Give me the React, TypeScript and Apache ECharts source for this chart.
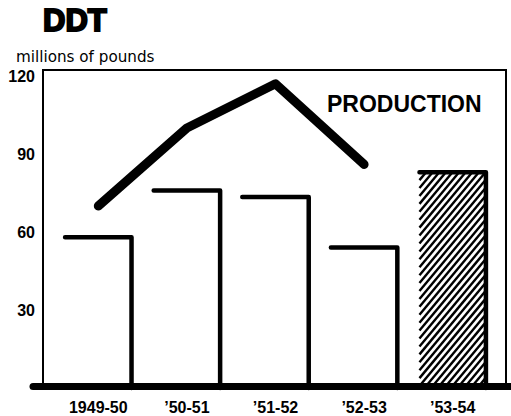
import React, { useEffect, useRef } from "react";
import * as echarts from "echarts";

const categories = ["1949-50", "\u201950-51", "\u201951-52", "\u201952-53", "\u201953-54"];
const barValues = [58, 76, 73.5, 54, 83];
const projected = [false, false, false, false, true];
const productionValues = [70, 100, 117, 86];
const yTicks = [30, 60, 90, 120];

export default function App() {
  const ref = useRef<HTMLDivElement>(null);
  useEffect(() => {
    if (!ref.current) return;
    const chart = echarts.init(ref.current, null, { renderer: "svg" });
    const barData = barValues.map((v, i) => [i, v, projected[i] ? 1 : 0]);
    const option: any = {
      animation: false,
      backgroundColor: "#fff",
      title: [
        {
          text: "DDT",
          left: 43,
          top: 5,
          padding: 0,
          textStyle: {
            fontFamily: "Liberation Sans",
            fontWeight: "bold",
            fontSize: 31,
            color: "#000",
            textBorderColor: "#000",
            textBorderWidth: 2,
          },
        },
        {
          text: "millions of pounds",
          left: 16,
          top: 49,
          padding: 0,
          textStyle: { fontFamily: "DejaVu Sans", fontWeight: "normal", fontSize: 15.2, color: "#000" },
        },
      ],
      graphic: [
        {
          type: "text",
          left: 327,
          top: 92,
          style: { text: "PRODUCTION", fontFamily: "Liberation Sans", fontWeight: "bold", fontSize: 23, fill: "#000" },
          z: 10,
        },
      ],
      grid: [
        { left: 54, top: 76, width: 443, height: 312 },
        { left: 43, top: 70, width: 463, height: 318, show: true, borderColor: "#000", borderWidth: 2, backgroundColor: "transparent" },
        { left: 33, right: 0, top: 0, height: 386 },
      ],
      xAxis: [
        {
          type: "category",
          gridIndex: 0,
          data: categories,
          axisLine: { show: false },
          axisTick: { show: false },
          axisLabel: {
            interval: 0,
            margin: 11,
            color: "#000",
            fontFamily: "Liberation Sans",
            fontWeight: "bold",
            fontSize: 16,
          },
        },
        { type: "value", gridIndex: 1, show: false },
        {
          type: "value",
          gridIndex: 2,
          axisLine: { show: true, lineStyle: { color: "#000", width: 7 } },
          axisTick: { show: false },
          axisLabel: { show: false },
          splitLine: { show: false },
        },
      ],
      yAxis: [
        {
          type: "value",
          gridIndex: 0,
          min: 0,
          max: 120,
          interval: 30,
          axisLine: { show: false },
          axisTick: { show: false },
          splitLine: { show: false },
          axisLabel: {
            margin: 19,
            color: "#000",
            fontFamily: "Liberation Sans",
            fontWeight: "bold",
            fontSize: 16,
            formatter: (v: number) => (yTicks.includes(v) ? String(v) : ""),
          },
        },
        { type: "value", gridIndex: 1, show: false },
        { type: "value", gridIndex: 2, show: false },
      ],
      series: [
        {
          type: "custom",
          xAxisIndex: 0,
          yAxisIndex: 0,
          data: barData,
          renderItem: (params: any, api: any) => {
            const top = api.coord([api.value(0), api.value(1)]);
            const base = api.coord([api.value(0), 0]);
            const bw = api.size([1, 0])[0] * 0.75;
            const x0 = top[0] - bw / 2;
            const x1 = top[0] + bw / 2;
            const y0 = top[1];
            const y1 = base[1];
            const children: any[] = [];
            if (api.value(2) === 1) {
              const k = 1.2;
              const h = 6.6;
              for (let c = k * x0 + y0; c <= k * x1 + y1; c += k * h) {
                const xa = Math.max(x0, (c - y1) / k);
                const xb = Math.min(x1, (c - y0) / k);
                if (xb > xa) {
                  children.push({
                    type: "line",
                    shape: { x1: xa, y1: c - k * xa, x2: xb, y2: c - k * xb },
                    style: { stroke: "#000", lineWidth: 2.4 },
                  });
                }
              }
            }
            children.push({
              type: "polyline",
              shape: { points: [[x0, y0], [x1, y0], [x1, y1]] },
              style: { stroke: "#000", lineWidth: 4.5, fill: null, lineCap: "round", lineJoin: "round" },
            });
            return { type: "group", children };
          },
          z: 2,
        },
        {
          type: "line",
          xAxisIndex: 0,
          yAxisIndex: 0,
          data: productionValues,
          symbol: "none",
          lineStyle: { color: "#000", width: 9, cap: "round", join: "round" },
          z: 3,
        },
      ],
    };
    chart.setOption(option);
    return () => chart.dispose();
  }, []);
  return <div ref={ref} style={{ position: "fixed", left: 0, top: 0, width: 511, height: 416 }} />;
}
